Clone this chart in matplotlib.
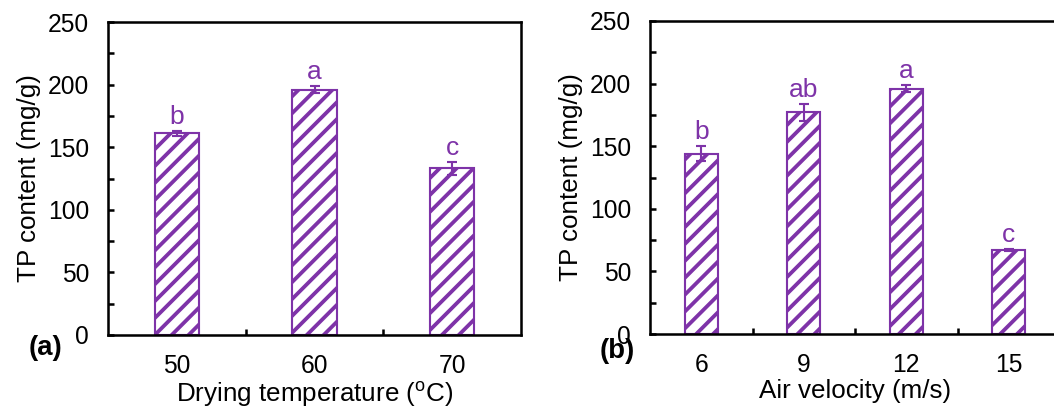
import matplotlib
matplotlib.use("Agg")
import matplotlib.pyplot as plt
import numpy as np

plt.rcParams["font.family"] = ["Liberation Sans", "DejaVu Sans"]
plt.rcParams["mathtext.fontset"] = "custom"
plt.rcParams["mathtext.rm"] = "Liberation Sans"
plt.rcParams["hatch.linewidth"] = 1.8

PURPLE = "#7E33A8"

# panel (a): drying temperature
temp_labels = ["50", "60", "70"]
temp_values = [161, 196, 133]
temp_errors = [2, 3, 5]
temp_letters = ["b", "a", "c"]

# panel (b): air velocity
vel_labels = ["6", "9", "12", "15"]
vel_values = [144, 177, 196, 67]
vel_errors = [6, 7, 3, 1]
vel_letters = ["b", "ab", "a", "c"]

DPI = 152
fig = plt.figure(figsize=(1054 / DPI, 410 / DPI), dpi=DPI)
ax1 = fig.add_axes([108 / 1054, 1 - 335 / 410, 413 / 1054, 313 / 410])
ax2 = fig.add_axes([650 / 1054, 1 - 334 / 410, 410 / 1054, 313 / 410])


def draw_panel(ax, labels, values, errors, letters, xlabel):
    x = np.arange(len(labels))
    ax.bar(x, values, width=0.32, color="white", edgecolor=PURPLE,
           hatch="///", linewidth=1.0, zorder=2)
    ax.errorbar(x, values, yerr=errors, fmt="none", ecolor=PURPLE,
                elinewidth=1.0, capsize=2.6, capthick=1.0, zorder=3)
    for xi, v, e, t in zip(x, values, errors, letters):
        ax.annotate(t, (xi, v + e), xytext=(0, 1), textcoords="offset points",
                    ha="center", va="bottom", color=PURPLE, fontsize=12.5)
    ax.set_xlim(-0.5, len(labels) - 0.5)
    ax.set_ylim(0, 250)
    ax.set_yticks(np.arange(0, 251, 50))
    ax.set_yticks(np.arange(25, 250, 50), minor=True)
    ax.set_xticks(x)
    ax.set_xticklabels(labels)
    ax.set_xticks(np.arange(0.5, len(labels) - 0.5, 1), minor=True)
    ax.tick_params(axis="y", which="both", direction="in", length=2.8,
                   width=1.2, labelsize=11.7, pad=9)
    ax.tick_params(axis="x", which="major", length=0, labelsize=11.7, pad=9)
    ax.tick_params(axis="x", which="minor", direction="in", length=2.8, width=1.2)
    for s in ax.spines.values():
        s.set_linewidth(1.2)
    ax.set_ylabel("TP content (mg/g)", fontsize=12.3, labelpad=3)
    ax.set_xlabel(xlabel, fontsize=12.3, labelpad=1)


draw_panel(ax1, temp_labels, temp_values, temp_errors, temp_letters,
           r"Drying temperature ($\mathregular{^o}$C)")
draw_panel(ax2, vel_labels, vel_values, vel_errors, vel_letters,
           "Air velocity (m/s)")

fig.text(45 / 1054, 1 - 348 / 410, "(a)", fontsize=13, fontweight="bold",
         ha="center", va="center")
fig.text(617 / 1054, 1 - 351 / 410, "(b)", fontsize=13, fontweight="bold",
         ha="center", va="center")

fig.savefig("out.png", dpi=DPI)
